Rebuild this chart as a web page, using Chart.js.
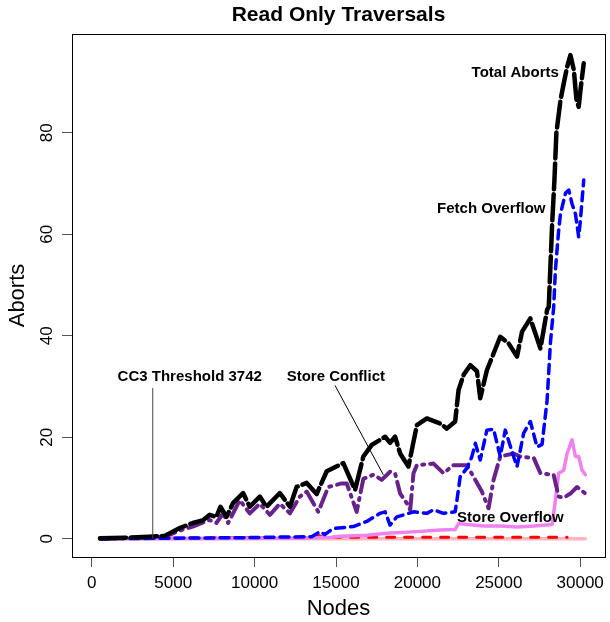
<!DOCTYPE html>
<html>
<head>
<meta charset="utf-8">
<script src="https://cdn.jsdelivr.net/npm/chart.js@4.4.1/dist/chart.umd.min.js"></script>
<style>
  html, body { margin: 0; padding: 0; background: #fff; }
  #wrap { width: 610px; height: 622px; }
</style>
</head>
<body>
<div id="wrap"><canvas id="chart" width="610" height="622"></canvas></div>
<script>
// ─── Dados ───
const xTicks = [0, 5000, 10000, 15000, 20000, 25000, 30000];
const yTicks = [0, 20, 40, 60, 80];

const totalX = [500, 2000, 3500, 4500, 5400, 6200, 6800, 7240, 7650, 7900, 8270, 8670, 9290, 9700, 10320, 10730, 11550, 12170, 12580, 13200, 13810, 14430, 15450, 16170, 16680, 17200, 18020, 18320, 18630, 18940, 19450, 19970, 20580, 21400, 21810, 22320, 22530, 22840, 23250, 23660, 23860, 24270, 24680, 25090, 25600, 26120, 26430, 26940, 27560, 27970, 28070, 28280, 28420, 28540, 28790, 28990, 29200, 29400, 29610, 29770, 29910, 30020, 30220];
const totalY = [0.1, 0.2, 0.4, 0.6, 2.1, 3.1, 3.6, 4.7, 4.3, 6.3, 4.3, 7.0, 9.0, 6.3, 8.3, 6.3, 9.0, 6.3, 10.2, 11.0, 8.8, 13.3, 14.9, 9.6, 16.2, 18.5, 20.1, 18.9, 20.1, 16.8, 14.2, 22.4, 23.7, 22.7, 21.7, 23.1, 29.3, 32.3, 34.2, 33.0, 27.7, 33.2, 36.5, 39.8, 38.5, 35.9, 40.8, 43.4, 37.5, 45.1, 45.7, 62.1, 70.7, 80.0, 86.4, 89.7, 93.0, 95.3, 92.4, 86.6, 85.1, 88.4, 93.7];

const fetchX = [500, 4500, 9000, 11000, 13500, 14020, 14300, 14820, 16060, 16890, 17700, 18020, 18320, 18740, 19760, 20580, 20990, 21600, 22320, 22430, 22630, 23040, 23350, 23560, 23860, 24270, 24680, 25090, 25400, 25910, 26120, 26530, 26940, 27350, 27660, 27970, 28170, 28375, 28480, 28680, 28790, 29100, 29300, 29500, 29710, 29910, 30020, 30220];
const fetchY = [0, 0.1, 0.2, 0.3, 0.4, 1.4, 0.8, 2.0, 2.4, 3.4, 5.0, 5.3, 2.7, 4.3, 5.3, 5.0, 5.7, 5.0, 5.3, 7.6, 12.2, 13.9, 16.2, 18.8, 15.5, 21.4, 21.6, 16.2, 21.4, 16.2, 14.2, 20.8, 23.1, 18.1, 18.6, 27.3, 38.5, 45.7, 53.0, 60.8, 64.0, 68.1, 68.7, 66.0, 64.0, 59.5, 62.9, 70.7];

const conflictX = [500, 3500, 4580, 5400, 6200, 7240, 7650, 8060, 8370, 9090, 9700, 10320, 10940, 11550, 12170, 12780, 13200, 13910, 14530, 15350, 15660, 16270, 16680, 17300, 17810, 18320, 18630, 18940, 19350, 19560, 19760, 19970, 20990, 21600, 22220, 23040, 23450, 23960, 24370, 24680, 25090, 25910, 26320, 27150, 27560, 28370, 28680, 28990, 29400, 29810, 30320];
const conflictY = [0, 0.2, 0.5, 1.6, 2.4, 3.7, 3.1, 5.0, 3.1, 7.6, 5.0, 6.9, 4.7, 6.9, 5.0, 8.3, 9.3, 5.3, 10.2, 10.9, 10.9, 5.3, 11.8, 12.6, 11.6, 13.2, 12.9, 8.9, 7.0, 5.7, 12.9, 14.5, 14.8, 12.9, 14.5, 14.5, 12.2, 9.3, 6.0, 11.6, 16.2, 16.8, 16.2, 15.9, 12.9, 12.6, 8.3, 8.1, 8.9, 10.2, 8.9];

const storeOvX = [500, 12000, 14800, 15250, 16890, 18120, 19970, 21400, 22320, 22530, 23040, 24070, 25090, 26120, 27150, 28280, 28480, 28680, 28990, 29200, 29500, 29710, 29910, 30120, 30320];
const storeOvY = [0, 0.1, 0.3, 0.5, 0.7, 1.1, 1.4, 1.7, 1.8, 3.0, 2.8, 2.5, 2.5, 2.3, 2.5, 2.8, 7.6, 12.9, 13.5, 16.8, 19.5, 16.2, 16.2, 13.5, 12.6];

const redX = [500, 7000, 13500, 13800, 14200, 20000, 29200];
const redY = [0, 0.2, 0.2, 0.8, 0.3, 0.3, 0.3];

const baseX = [500, 30320];
const baseY = [0, 0];

// ─── Anotações (coordenadas em unidades dos dados) ───
const notes = [
  { text: 'CC3 Threshold 3742', x: 6013, y: 31.9, line: [3742, 29.7, 3742, 0], lineColor: '#444' },
  { text: 'Store Conflict', x: 14990, y: 31.9, line: [14940, 30.2, 17910, 12.6], lineColor: '#000' },
  { text: 'Total Aborts', x: 26010, y: 91.8 },
  { text: 'Fetch Overflow', x: 24540, y: 64.9 },
  { text: 'Store Overflow', x: 25710, y: 4.1 }
];

const FONT = "'Liberation Sans', Arial, Helvetica, sans-serif";
Chart.defaults.font.family = FONT;
Chart.defaults.color = '#000';

const pts = (xs, ys) => xs.map((x, i) => ({ x, y: ys[i] }));

function serie(label, xs, ys, color, width, dash) {
  return {
    label, data: pts(xs, ys), borderColor: color, backgroundColor: color,
    borderWidth: width, borderDash: dash, borderCapStyle: 'round', borderJoinStyle: 'round',
    pointRadius: 0, tension: 0, fill: false
  };
}

// ═══════════════ PLUGIN: caixa, rótulos dos eixos e anotações ═══════════════
const rDecor = {
  id: 'rDecor',
  afterDraw(chart) {
    const { ctx, chartArea: a, scales: { x, y } } = chart;
    ctx.save();
    ctx.strokeStyle = '#000';
    ctx.lineWidth = 1;
    ctx.strokeRect(a.left + 0.5, a.top + 0.5, a.right - a.left, a.bottom - a.top);

    ctx.font = '17px ' + FONT;
    ctx.fillStyle = '#000';
    ctx.textAlign = 'center';
    ctx.textBaseline = 'middle';
    // rótulos do eixo X
    xTicks.forEach(v => ctx.fillText(String(v), x.getPixelForValue(v), 583));
    // rótulos do eixo Y (rotacionados, estilo R)
    yTicks.forEach(v => {
      ctx.save();
      ctx.translate(47, y.getPixelForValue(v));
      ctx.rotate(-Math.PI / 2);
      ctx.fillText(String(v), 0, 0);
      ctx.restore();
    });

    // títulos dos eixos
    ctx.font = '22px ' + FONT;
    ctx.fillText('Nodes', (a.left + a.right) / 2, 609);
    ctx.save();
    ctx.translate(18, (a.top + a.bottom) / 2);
    ctx.rotate(-Math.PI / 2);
    ctx.fillText('Aborts', 0, 0);
    ctx.restore();

    // anotações
    ctx.font = 'bold 15px ' + FONT;
    notes.forEach(n => {
      if (n.line) {
        ctx.strokeStyle = n.lineColor;
        ctx.lineWidth = 1;
        ctx.beginPath();
        ctx.moveTo(x.getPixelForValue(n.line[0]), y.getPixelForValue(n.line[1]));
        ctx.lineTo(x.getPixelForValue(n.line[2]), y.getPixelForValue(n.line[3]));
        ctx.stroke();
      }
      ctx.fillStyle = '#000';
      ctx.fillText(n.text, x.getPixelForValue(n.x), y.getPixelForValue(n.y));
    });
    ctx.restore();
  }
};

new Chart(document.getElementById('chart'), {
  type: 'line',
  data: {
    datasets: [
      serie('Total Aborts', totalX, totalY, '#000000', 4.5, [26, 5]),
      serie('Fetch Overflow', fetchX, fetchY, '#0000FF', 3.5, [9, 6]),
      serie('Store Conflict', conflictX, conflictY, '#68228B', 4, [16, 6, 2, 6]),
      serie('Store Overflow', storeOvX, storeOvY, '#EE82EE', 3.5, []),
      serie('red', redX, redY, '#FF0000', 3, [8, 10]),
      serie('base', baseX, baseY, '#FFB6C1', 3.5, [])
    ]
  },
  options: {
    responsive: false,
    animation: false,
    layout: { padding: { top: 0, right: 5, left: 0, bottom: 0 } },
    plugins: {
      legend: { display: false },
      tooltip: { enabled: false },
      title: {
        display: true, fullSize: false, text: 'Read Only Traversals',
        font: { size: 21, weight: 'bold', lineHeight: 1.2 },
        padding: { top: 3, bottom: 5.8 }, color: '#000'
      }
    },
    scales: {
      x: {
        type: 'linear', min: -1219, max: 31526,
        afterBuildTicks: s => { s.ticks = xTicks.map(v => ({ value: v })); },
        afterFit: s => { s.height = 65; },
        grid: { drawOnChartArea: false, drawTicks: true, tickLength: 10, color: '#555' },
        border: { display: false },
        ticks: { display: false }
      },
      y: {
        type: 'linear', min: -3.6, max: 99.45,
        afterBuildTicks: s => { s.ticks = yTicks.map(v => ({ value: v })); },
        afterFit: s => { s.width = 72; },
        grid: { drawOnChartArea: false, drawTicks: true, tickLength: 10, color: '#555' },
        border: { display: false },
        ticks: { display: false }
      }
    }
  },
  plugins: [rDecor]
});
</script>
</body>
</html>
